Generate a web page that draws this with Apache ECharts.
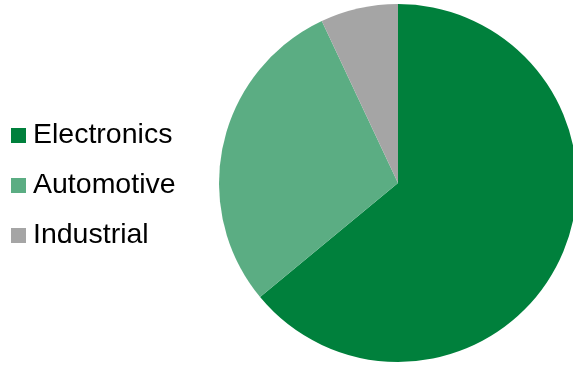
<!DOCTYPE html>
<html><head><meta charset="utf-8">
<script src="https://cdn.jsdelivr.net/npm/echarts@6/dist/echarts.min.js"></script>
<style>html,body{margin:0;padding:0;background:#fff}#c{width:573px;height:365px}</style>
</head><body><div id="c"></div>
<script>
const categories = ["Electronics", "Automotive", "Industrial"];
const values = [64, 29, 7];
const colors = ["#00803C", "#5BAD83", "#A5A5A5"];

const chart = echarts.init(document.getElementById('c'), null, {renderer: 'canvas'});
chart.setOption({
  animation: false,
  color: colors,
  legend: {
    orient: 'vertical',
    left: 11,
    top: 121,
    padding: 0,
    icon: 'rect',
    itemWidth: 15,
    itemHeight: 15,
    itemGap: 21,
    textStyle: {fontFamily: 'Liberation Sans, Arial, sans-serif', fontSize: 28.5, lineHeight: 28, color: '#000', padding: [0,0,0,2]},
    data: categories
  },
  series: [{
    type: 'pie',
    center: [398, 183],
    radius: 179,
    startAngle: 90,
    clockwise: true,
    label: {show: false},
    labelLine: {show: false},
    itemStyle: {borderWidth: 0},
    emphasis: {disabled: true},
    data: categories.map((c, i) => ({name: c, value: values[i]}))
  }]
});
</script></body></html>
